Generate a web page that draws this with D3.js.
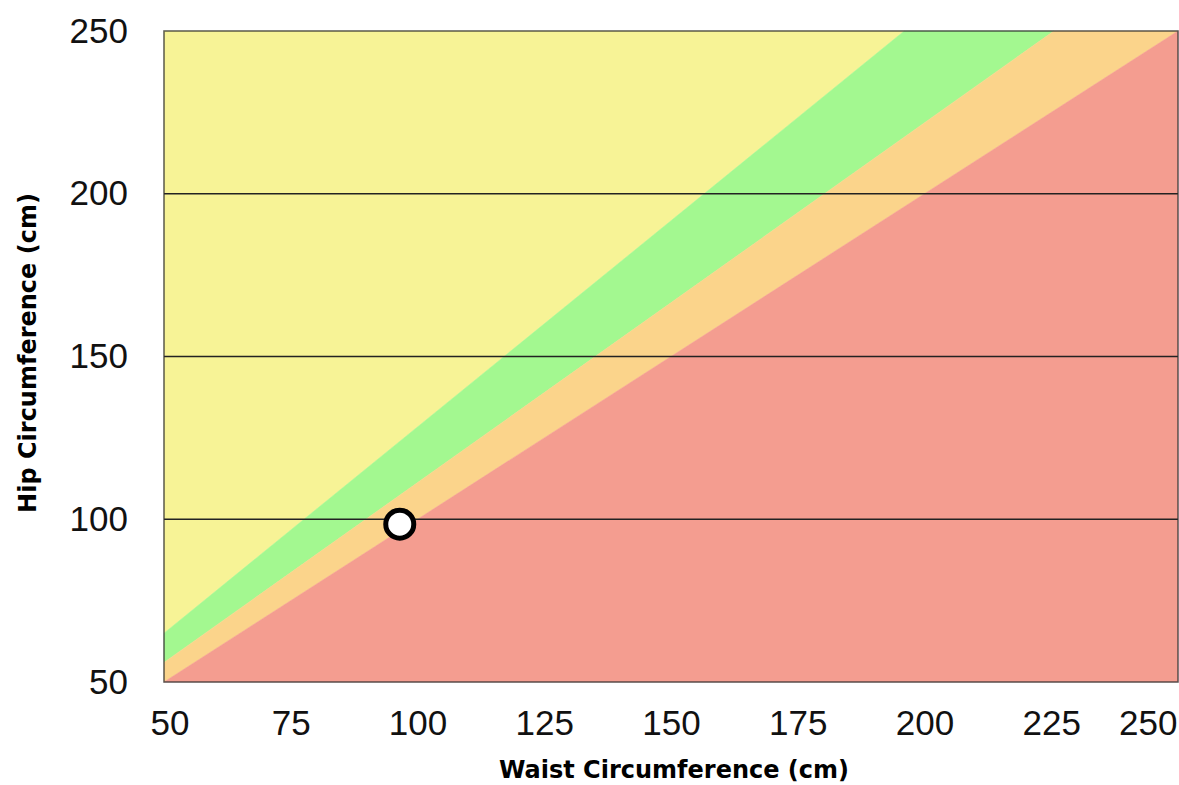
<!DOCTYPE html>
<html>
<head>
<meta charset="utf-8">
<script src="https://cdn.jsdelivr.net/npm/d3@7"></script>
<style>
  html, body { margin: 0; padding: 0; background: #fff; }
  svg { display: block; }
</style>
</head>
<body>
<svg id="chart" width="1179" height="785"></svg>
<script>
// ---- data ----
const waistDomain = [50, 250];
const hipDomain = [50, 250];
const xTickValues = [50, 75, 100, 125, 150, 175, 200, 225, 250];
const yTickValues = [50, 100, 150, 200, 250];
const gridValues = [100, 150, 200];
// zone boundary lines [waist, hip]
const boundaryYellowGreen = [[50, 65], [196, 250]];
const boundaryGreenOrange = [[50, 56], [225.5, 250]];
const boundaryOrangeRed = [[50, 50], [250, 250]];
const zoneNames = ["yellow", "green", "orange", "red"];
const zoneColors = ["#f7f396", "#a3f890", "#fbd48b", "#f49d90"];
const userPoint = [96.5, 98.5];
const xTitle = "Waist Circumference (cm)";
const yTitle = "Hip Circumference (cm)";

// ---- layout ----
const svg = d3.select("#chart");
const W = 1179, H = 785;
const plot = { left: 164, right: 1178, top: 31, bottom: 682 };

const x = d3.scaleLinear().domain(waistDomain).range([plot.left, plot.right]);
const y = d3.scaleLinear().domain(hipDomain).range([plot.bottom, plot.top]);

const [x0, x1] = waistDomain, [y0, y1] = hipDomain;
const zones = [
  [[x0, y1], boundaryYellowGreen[0], boundaryYellowGreen[1]],
  [boundaryYellowGreen[0], boundaryYellowGreen[1], boundaryGreenOrange[1], boundaryGreenOrange[0]],
  [boundaryGreenOrange[0], boundaryGreenOrange[1], boundaryOrangeRed[1], boundaryOrangeRed[0]],
  [boundaryOrangeRed[0], boundaryOrangeRed[1], [x1, y0]]
];

const line = d3.line().x(d => x(d[0])).y(d => y(d[1]));

svg.append("g").selectAll("path")
  .data(zones)
  .join("path")
  .attr("class", (d, i) => "zone " + zoneNames[i])
  .attr("d", d => line(d) + "Z")
  .attr("fill", (d, i) => zoneColors[i])
  .attr("stroke", (d, i) => zoneColors[i])
  .attr("stroke-width", 0.5);

// gridlines
svg.append("g").selectAll("line")
  .data(gridValues)
  .join("line")
  .attr("x1", plot.left).attr("x2", plot.right)
  .attr("y1", d => y(d)).attr("y2", d => y(d))
  .attr("stroke", "#222")
  .attr("stroke-width", 1.6);

// frame
svg.append("rect")
  .attr("x", plot.left).attr("y", plot.top)
  .attr("width", plot.right - plot.left)
  .attr("height", plot.bottom - plot.top)
  .attr("fill", "none")
  .attr("stroke", "rgba(50,50,50,0.75)")
  .attr("stroke-width", 1.6);

// y axis labels
const yAxis = d3.axisLeft(y).tickValues(yTickValues).tickSize(0).tickPadding(0);
const yg = svg.append("g").attr("transform", `translate(${plot.left - 36},0)`).call(yAxis);
yg.select(".domain").remove();
yg.selectAll("text")
  .attr("font-family", "'Liberation Sans', Arial, sans-serif")
  .attr("font-size", 35)
  .attr("fill", "#111")
  .attr("dy", "0.32em");

// x axis labels
const xAxis = d3.axisBottom(x).tickValues(xTickValues).tickSize(0).tickPadding(0);
const xg = svg.append("g").attr("transform", `translate(0,735)`).call(xAxis);
xg.select(".domain").remove();
xg.selectAll("text")
  .attr("font-family", "'Liberation Sans', Arial, sans-serif")
  .attr("font-size", 35)
  .attr("fill", "#111")
  .attr("y", 0)
  .attr("dy", 0)
  .each(function(d) {
    const w = this.getComputedTextLength();
    const cx = x(d);
    const c = Math.max(plot.left - 14 + w / 2, Math.min(W - 2 - w / 2, cx));
    d3.select(this).attr("dx", c - cx);
  });

// axis titles
svg.append("text")
  .attr("x", 674).attr("y", 778)
  .attr("text-anchor", "middle")
  .attr("font-family", "'DejaVu Sans', Verdana, sans-serif")
  .attr("font-weight", "bold")
  .attr("font-size", 24)
  .attr("fill", "#000")
  .text(xTitle);

svg.append("text")
  .attr("transform", "translate(36,353) rotate(-90)")
  .attr("text-anchor", "middle")
  .attr("font-family", "'DejaVu Sans', Verdana, sans-serif")
  .attr("font-weight", "bold")
  .attr("font-size", 24)
  .attr("fill", "#000")
  .text(yTitle);

// user's point
svg.append("circle")
  .attr("cx", x(userPoint[0]))
  .attr("cy", y(userPoint[1]))
  .attr("r", 14)
  .attr("fill", "#fff")
  .attr("stroke", "#000")
  .attr("stroke-width", 5);
</script>
</body>
</html>
